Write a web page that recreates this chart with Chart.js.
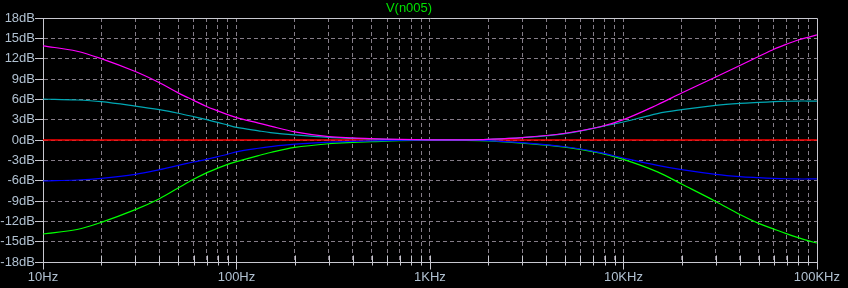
<!DOCTYPE html>
<html><head><meta charset="utf-8">
<script src="https://cdn.jsdelivr.net/npm/chart.js@4.4.0/dist/chart.umd.min.js"></script>
<style>html,body{margin:0;padding:0;background:#000;overflow:hidden;}canvas{display:block;}</style>
</head><body>
<canvas id="c" width="848" height="288"></canvas>
<script>
const chartTitle = 'V(n005)';
const freqs = [10,15,20,30,40,50,60,70,80,90,100,130,150,200,300,400,500,700,1000,1500,2000,3000,5000,7500,10000,15000,20000,30000,40000,50000,60000,70000,80000,90000,100000];
const magentaDb = [13.9,13.1,12.0,10.1,8.45,6.95,5.85,4.95,4.3,3.75,3.3,2.5,2.05,1.2,0.49,0.3,0.2,0.08,0.02,0.03,0.1,0.35,1.0,1.92,3.0,5.2,6.93,9.3,11.0,12.33,13.4,14.16,14.75,15.15,15.5];
const cyanDb = [6.05,5.9,5.65,5.0,4.47,3.95,3.45,3.0,2.6,2.2,1.85,1.35,1.1,0.76,0.39,0.25,0.15,0.07,0.02,0.03,0.1,0.35,0.95,1.9,2.65,3.9,4.47,5.1,5.4,5.55,5.65,5.72,5.75,5.75,5.75];
const blueDb = [-6.05,-5.9,-5.66,-5.07,-4.38,-3.75,-3.25,-2.85,-2.45,-2.1,-1.75,-1.22,-0.98,-0.62,-0.3,-0.2,-0.12,-0.06,-0.02,-0.03,-0.1,-0.4,-1.0,-1.83,-2.66,-3.75,-4.38,-5.07,-5.41,-5.56,-5.66,-5.72,-5.75,-5.75,-5.75];
const greenDb = [-13.87,-13.2,-12.15,-10.28,-8.66,-7.08,-5.8,-4.85,-4.15,-3.6,-3.2,-2.3,-1.85,-1.1,-0.55,-0.35,-0.25,-0.1,-0.03,-0.04,-0.12,-0.45,-1.05,-1.9,-2.86,-4.7,-6.5,-9.06,-11.0,-12.3,-13.15,-13.85,-14.4,-14.85,-15.2];
const redDb = [0,0,0,0,0,0,0,0,0,0,0,0,0,0,0,0,0,0,0,0,0,0,0,0,0,0,0,0,0,0,0,0,0,0,0];
const gridFreqs = [10,20,30,40,50,60,70,80,90,100,200,300,400,500,600,700,800,900,1000,2000,3000,4000,5000,6000,7000,8000,9000,10000,20000,30000,40000,50000,60000,70000,80000,90000,100000];
const decadeFreqs = [10,100,1000,10000,100000];
const decadeLabels = ['10Hz','100Hz','1KHz','10KHz','100KHz'];
const yMin = -18, yMax = 18, yStep = 3;

const axisColor = '#c8c8d0';
const gridColor = '#857d88';
const labelColor = '#b0c0d0';
const font = {family:"'Liberation Sans', Arial, sans-serif", size:13, weight:'normal'};

const pts = arr => freqs.map((f,i)=>({x:f, y:arr[i]}));
const ds = (arr, color, w) => ({data:pts(arr), borderColor:color, borderWidth:w, pointRadius:0, fill:false, tension:0.35});

const frame = {
  id:'frame',
  afterDraw(chart){
    const {ctx, chartArea:a, scales:{x}} = chart;
    ctx.save();
    ctx.strokeStyle = axisColor; ctx.lineWidth = 1;
    ctx.beginPath();
    const t = Math.round(a.top)+0.5, r = Math.round(a.right)+0.5, b = Math.round(a.bottom)+0.5;
    ctx.moveTo(Math.round(a.left), t); ctx.lineTo(r, t); ctx.lineTo(r, b);
    for (const v of gridFreqs){
      const px = Math.round(x.getPixelForValue(v))+0.5;
      const major = decadeFreqs.includes(v);
      ctx.moveTo(px, b-7); ctx.lineTo(px, b + (major?7:3));
    }
    ctx.stroke();
    ctx.restore();
  }
};

new Chart(document.getElementById('c'), {
  type:'line',
  data:{datasets:[
    ds(magentaDb,'#ff00ff',1.2),
    ds(cyanDb,'#00a8b4',1.2),
    ds(blueDb,'#0000ff',1.2),
    ds(greenDb,'#00ff00',1.2),
    ds(redDb,'#ff0000',1.6)
  ]},
  options:{
    responsive:false, animation:false, devicePixelRatio:1,
    layout:{padding:{left:0,right:30,top:0,bottom:0}},
    plugins:{
      legend:{display:false}, tooltip:{enabled:false},
      title:{display:true, text:chartTitle, color:'#00e000', font:font, padding:{top:1,bottom:1.4}}
    },
    scales:{
      x:{
        type:'logarithmic', min:10, max:100000,
        afterBuildTicks:s=>{ s.ticks = gridFreqs.map(v=>({value:v})); },
        afterFit:s=>{ s.height = 26; },
        ticks:{autoSkip:false, maxRotation:0, minRotation:0, color:labelColor, font:font, padding:8,
          callback:(v)=>{ const i = decadeFreqs.indexOf(v); return i>=0 ? decadeLabels[i] : ''; }},
        grid:{drawTicks:false, lineWidth:1,
          color:c=> (c.tick && (c.tick.value===10 || c.tick.value===100000)) ? 'rgba(0,0,0,0)' : gridColor},
        border:{display:true, color:axisColor, width:1, dash:[4,3]}
      },
      y:{
        type:'linear', min:yMin, max:yMax,
        afterFit:s=>{ s.width = 43; },
        ticks:{stepSize:yStep, color:labelColor, font:font, padding:0, callback:v=>v+'dB'},
        grid:{lineWidth:1, tickLength:8, tickColor:axisColor,
          color:c=> (c.tick && (c.tick.value===yMin || c.tick.value===yMax)) ? 'rgba(0,0,0,0)' : gridColor},
        border:{display:true, color:axisColor, width:1, dash:[4,3]}
      }
    }
  },
  plugins:[frame]
});
</script>
</body></html>
